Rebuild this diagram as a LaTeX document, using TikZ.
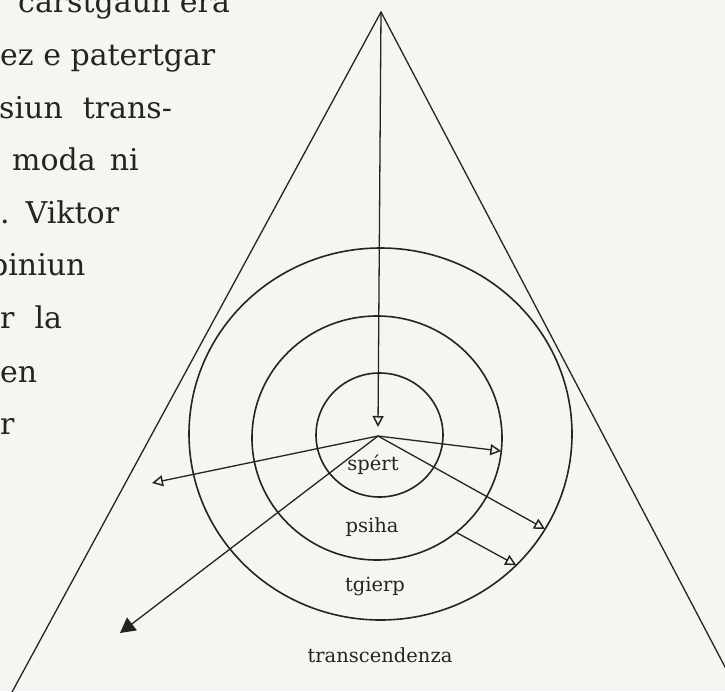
\documentclass[tikz,border=0pt]{standalone}
\usepackage{fontspec}
\setmainfont{DejaVu Serif}
\usetikzlibrary{arrows.meta,shapes.geometric}
\definecolor{paper}{RGB}{244,246,241}
\definecolor{ink}{RGB}{38,35,32}

\begin{document}
\begin{tikzpicture}[
        x=1pt, y=-1pt,
        every node/.style={text=ink},
        pagetext/.style={anchor=base west, inner sep=0pt, font=\fontsize{30}{36}\selectfont},
        ring/.style={ellipse, draw=ink, line width=1.6pt, inner sep=0pt, outer sep=0pt},
        ringlabel/.style={anchor=base, inner sep=0pt, font=\fontsize{19.5}{22}\selectfont},
        side/.style={draw=ink, line width=1.3pt},
        arrow/.style={-{Triangle[open, length=11pt, width=11pt, line width=1.5pt]}, draw=ink, line width=1.3pt},
        bigarrow/.style={-{Triangle[length=15pt, width=16pt]}, draw=ink, line width=1.3pt}
        ]

        \fill[paper] (0,0) rectangle (725,691);
        \useasboundingbox (0,0) rectangle (725,691);

        % column of the page
        \node[pagetext] (line1) at (18,12) {carstgaun era};
        \node[pagetext] (line2) at (0,65) {ez e patertgar};
        \node[pagetext] (line3) at (-1,118) {siun\hspace{20pt}trans-};
        \node[pagetext] (line4) at (12,170) {moda\hspace{14pt}ni};
        \node[pagetext] (line5) at (0,223) {.\hspace{16pt}Viktor};
        \node[pagetext] (line6) at (-11,275) {piniun};
        \node[pagetext] (line7) at (0,328) {r\hspace{20pt}la};
        \node[pagetext] (line8) at (0,382) {en};
        \node[pagetext] (line9) at (0,434) {r};

        % triangle
        \coordinate (apex) at (381,12);
        \coordinate (baseL) at (5,705);
        \coordinate (baseR) at (745,705);
        \draw[side] (baseL) -- (apex) -- (baseR);

        % rings
        \node[ring, minimum width=127pt, minimum height=124pt] (spirt) at (379.5,435) {};
        \node[ring, minimum width=250pt, minimum height=244pt] (psiha) at (377,438) {};
        \node[ring, minimum width=383pt, minimum height=372pt] (tgierp) at (380.5,434) {};

        \node[ringlabel] (spirtlabel) at (373,470) {spért};
        \node[ringlabel] (psihalabel) at (372,532) {psiha};
        \node[ringlabel] (tgierplabel) at (375,591) {tgierp};
        \node[ringlabel] (translabel) at (380,662) {transcendenza};

        % arrows
        \coordinate (hub) at (378,436);
        \coordinate (downtip) at (378,427);
        \coordinate (lefttip) at (152,483);
        \coordinate (lowlefttip) at (120,633);

        \draw[arrow] (apex) -- (downtip);
        \draw[arrow] (hub) -- (lefttip);
        \draw[bigarrow] (hub) -- (lowlefttip);
        \draw[arrow] (hub) -- (psiha.-6);
        \draw[arrow] (hub) -- (tgierp.-30);
        \draw[arrow] (psiha.-50) -- (tgierp.-44);

    \end{tikzpicture}
\end{document}
